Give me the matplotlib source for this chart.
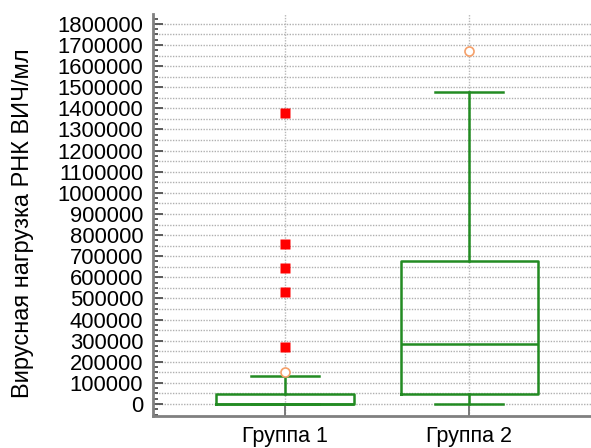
import matplotlib.pyplot as plt
from matplotlib.ticker import MultipleLocator

plt.rcParams['font.family'] = ['Liberation Sans', 'DejaVu Sans']

groups = ["Группа 1", "Группа 2"]
q1 = [0, 47000]
med = [2000, 285000]
q3 = [48000, 678000]
whislo = [0, 0]
whishi = [133000, 1478000]
# выбросы (кружки) и крайние выбросы (квадраты)
near_out = [[152000], [1672000]]
far_out = [[270000, 530000, 644000, 758000, 1378000], []]

green = "#228B22"

stats = []
for i, g in enumerate(groups):
    stats.append(dict(label=g, q1=q1[i], med=med[i], q3=q3[i],
                      whislo=whislo[i], whishi=whishi[i], fliers=[]))

fig = plt.figure(figsize=(5.91, 4.48), dpi=100)
ax = fig.add_axes([153/591, 1 - 416/448, 1 - 153/591, 402/448])

pos = [1, 2]
ax.bxp(stats, positions=pos, widths=0.745, capwidths=0.37, showfliers=False,
       boxprops=dict(color=green, linewidth=1.8),
       medianprops=dict(color=green, linewidth=1.8),
       whiskerprops=dict(color=green, linewidth=1.8),
       capprops=dict(color=green, linewidth=1.8))

for i, p in enumerate(pos):
    ax.plot([p] * len(near_out[i]), near_out[i], 'o', ms=6.5, mfc='white',
            mec='#f5a06a', mew=1.2, zorder=5)
    ax.plot([p] * len(far_out[i]), far_out[i], 's', ms=6.5, color='red',
            mec='none', zorder=5)

ax.set_xlim(0.283, 2.66)
ax.set_ylim(-57000, 1847000)

ax.yaxis.set_major_locator(MultipleLocator(100000))
ax.yaxis.set_minor_locator(MultipleLocator(25000))
ax.yaxis.set_major_formatter(lambda v, p: f"{int(v)}")

ax.set_xticks(pos)
ax.set_xticklabels(groups)

ax.tick_params(axis='y', which='major', direction='in', length=7.2, width=1.3,
               color='#505050', labelsize=15.8, pad=7)
ax.tick_params(axis='y', which='minor', direction='in', length=3.6, width=1.3,
               color='#505050')
ax.tick_params(axis='x', direction='in', length=7, width=1.3, color='#707070',
               labelsize=15.5, pad=7)

# сетка каждые 50000
for v in range(0, 1850000, 50000):
    ax.axhline(v, color='#b0b0b0', lw=1, ls=(0, (1, 1)), zorder=0)
ax.grid(axis='x', color='#b8b8b8', lw=1, ls=(0, (1, 1)))

for s in ['top', 'right']:
    ax.spines[s].set_visible(False)
for s in ['left', 'bottom']:
    ax.spines[s].set_color('#808080')
    ax.spines[s].set_linewidth(2)

ax.set_ylabel("Вирусная нагрузка РНК ВИЧ/мл", fontsize=17)
ax.yaxis.set_label_coords((34 - 153) / 438, (416 - 223.5) / 402)

fig.savefig("out.png", dpi=100)
